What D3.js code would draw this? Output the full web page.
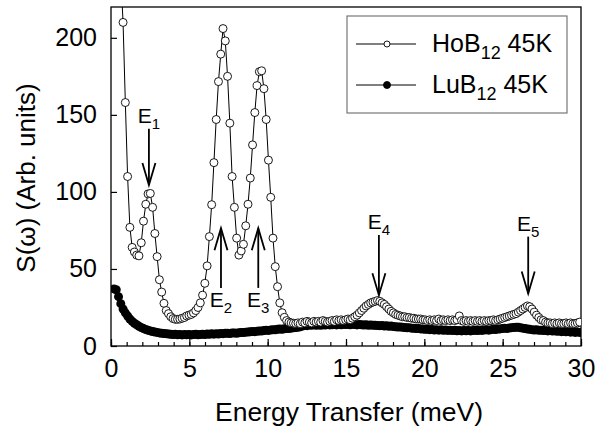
<!DOCTYPE html>
<html>
<head>
<meta charset="utf-8">
<script src="https://cdn.jsdelivr.net/npm/d3@7"></script>
<style>
  body { margin: 0; background: #fff; }
  svg text { font-family: Arial, "Liberation Sans", sans-serif; fill: #000; }
</style>
</head>
<body>
<div id="vis-container"></div>
<script>
// energy grid of the measurement (meV): first point and step
var e0 = 0.19;
var dE = 0.145;

// HoB12 at 45K, S(w) (open circles)
var hoValues = [
    380, 330, 280, 240, 210, 158, 110, 77, 64, 61,
    59, 58.5, 67, 81, 92, 98.7, 99, 90, 73, 58,
    43, 35, 27.7, 23, 21, 19, 17.8, 17.3, 17.3, 17.5,
    18, 18.5, 19.5, 20, 20.5, 21.5, 23, 25, 28, 33,
    40.7, 52, 71, 91.7, 119, 147, 171.6, 189.4, 206, 198,
    175, 144.6, 110, 90, 70, 59, 61.7, 66, 78, 92,
    109, 130.5, 151.5, 169, 178, 178.6, 167, 147, 120.6, 96.5,
    70, 51.5, 38.5, 28, 21.6, 18.6, 16.5, 15.5, 15, 14.8,
    14.6, 15, 14.5, 15.5, 15, 16, 15.5, 15, 16, 15.5,
    16, 15.5, 16.5, 16, 15.5, 16, 16.5, 16, 17, 16.5,
    17, 16.5, 17, 17.5, 17, 18, 19, 20, 21.5, 23,
    24.5, 26, 27, 28, 28.5, 29, 29.5, 29, 28, 27,
    25.5, 24, 22.5, 21.5, 20.5, 20, 19.5, 19, 19, 18.5,
    18.5, 18, 18, 17.5, 17.5, 17.5, 17, 17, 16.5, 17,
    16.5, 17, 16.5, 17.5, 16.5, 17, 16.5, 17, 16.5, 17,
    16.5, 17, 19.5, 16.5, 16, 16.5, 16, 16.5, 16, 16.5,
    16, 16.5, 16, 16.5, 16, 16.5, 16.5, 17, 16.5, 17,
    17.5, 18, 18.5, 19, 19.5, 20, 20.5, 21, 22, 23,
    24, 25, 26, 25.5, 24, 22, 20, 18.5, 17, 16.5,
    15.5, 15, 15, 14.5, 15, 14.5, 15, 14.5, 14.5, 15,
    14.5, 15, 14.5, 14.5, 15, 15.5
];

// LuB12 at 45K (filled circles)
var luValues = [
    37, 36.5, 32, 27.5, 24, 21.5, 19.5, 17.5, 16, 14.8,
    13.8, 12.8, 12, 11.3, 10.7, 10.2, 9.8, 9.4, 9.1, 8.8,
    8.5, 8.3, 8.1, 8, 7.8, 7.6, 7.5, 7.6, 7.3, 7.5,
    7.2, 7.4, 7.3, 7.5, 7.2, 7.4, 7.6, 7.3, 7.5, 7.7,
    7.5, 7.8, 7.6, 7.9, 7.7, 8, 7.8, 8.1, 8, 8.2,
    8.3, 8.1, 8.4, 8.5, 8.3, 8.6, 8.8, 8.7, 9, 9.1,
    9.2, 9.4, 9.3, 9.6, 9.8, 9.7, 10, 10.2, 10.1, 10.4,
    10.6, 10.5, 10.8, 11, 10.9, 11.2, 11.4, 11.3, 11.6, 11.8,
    12, 12.2, 12.5, 13, 13.5, 13.2, 13.6, 13.4, 13.8, 13.5,
    13.7, 13.4, 13.8, 13.6, 13.9, 13.7, 13.8, 14, 13.7, 14,
    13.8, 14.1, 13.9, 14, 13.8, 14.1, 13.9, 13.7, 14, 13.8,
    13.6, 13.8, 13.5, 13.7, 13.4, 13.5, 13.3, 13.2, 13.3, 13,
    13.1, 12.8, 12.9, 12.6, 12.5, 12.3, 12.4, 12.1, 12, 11.8,
    11.9, 11.6, 11.5, 11.3, 11.4, 11.1, 11, 10.9, 10.8, 10.6,
    10.7, 10.4, 10.6, 10.3, 10.5, 10.2, 10.4, 10.1, 10.3, 10,
    10.2, 9.9, 10.1, 9.8, 10, 9.9, 10.1, 9.8, 10, 10.2,
    10, 10.3, 10.1, 10.4, 10.5, 10.3, 10.6, 10.8, 10.7, 11,
    11.1, 11.3, 11.5, 11.4, 11.7, 11.9, 12, 12.2, 12.1, 11.8,
    11.6, 11.3, 11, 10.8, 10.6, 10.4, 10.5, 10.2, 10.3, 10,
    10.1, 9.8, 10, 9.7, 9.9, 9.5, 9.7, 9.3, 9.6, 9.2,
    9.4, 9, 9.2, 8.8, 9.1, 8.8
];

// axis ticks
var xTicksMajor = [0, 5, 10, 15, 20, 25, 30];
var xTicksMinor = d3.range(0, 31, 1);
var yTicks = [0, 50, 100, 150, 200];

// excitation arrows E1..E5: energy, tail and tip of the arrow (in S units)
var peakNames = ["1", "2", "3", "4", "5"];
var peakEnergy = [2.42, 7.02, 9.4, 17.1, 26.63];
var arrowTail = [141, 37.7, 37.7, 72, 71];
var arrowTip = [104.5, 76.4, 76.4, 33, 34];

var seriesNames = ["HoB", "LuB"];

var container = d3.select("#vis-container");

var width = 613;
var height = 434;
var margins = { top: 7, right: 32, bottom: 88, left: 111 };
var visWidth = width - margins.left - margins.right;
var visHeight = height - margins.top - margins.bottom;

var svg = container.append("svg")
    .attr("width", width)
    .attr("height", height);

var viewport = svg.append("g")
    .attr("transform", "translate(" + margins.left + "," + margins.top + ")");

var x = d3.scaleLinear().domain([0, 30]).range([0, visWidth]);
var y = d3.scaleLinear().domain([0, 220]).range([visHeight, 0]);

var hoData = hoValues.map((v, i) => ({ e: e0 + i * dE, s: v }));
var luData = luValues.map((v, i) => ({ e: e0 + i * dE, s: v }));

svg.append("defs").append("clipPath").attr("id", "plot-clip")
    .append("rect").attr("width", visWidth).attr("height", visHeight);

// axes
var axisG = viewport.append("g");

axisG.append("g")
    .attr("transform", "translate(0," + visHeight + ")")
    .call(d3.axisBottom(x).tickValues(xTicksMinor).tickSize(-4).tickSizeOuter(0).tickFormat(""));
axisG.append("g")
    .attr("transform", "translate(0," + visHeight + ")")
    .call(d3.axisBottom(x).tickValues(xTicksMajor).tickSize(-7).tickSizeOuter(0).tickPadding(13));
axisG.append("g")
    .call(d3.axisLeft(y).tickValues(yTicks).tickSize(-6).tickSizeOuter(0).tickPadding(14));

axisG.selectAll(".domain").remove();
axisG.selectAll(".tick line").attr("stroke", "#000").attr("stroke-width", 1.2);
axisG.selectAll(".tick text")
    .style("font-size", "25px")
    .attr("font-family", null);

// frame
viewport.append("rect")
    .attr("width", visWidth)
    .attr("height", visHeight)
    .attr("fill", "none")
    .attr("stroke", "#000")
    .attr("stroke-width", 1.3);

// axis titles
svg.append("text")
    .attr("x", margins.left + visWidth / 2 + 3)
    .attr("y", 421)
    .attr("text-anchor", "middle")
    .style("font-size", "26.5px")
    .text("Energy Transfer (meV)");

svg.append("text")
    .attr("transform", "translate(35," + (margins.top + 171) + ") rotate(-90)")
    .attr("text-anchor", "middle")
    .style("font-size", "26px")
    .text("S(\u03c9) (Arb. units)");

// data
var visualization = viewport.append("g").attr("clip-path", "url(#plot-clip)");
var line = d3.line().x(d => x(d.e)).y(d => y(d.s));

visualization.append("path")
    .datum(luData)
    .attr("d", line)
    .attr("fill", "none")
    .attr("stroke", "#000")
    .attr("stroke-width", 1);
visualization.selectAll(".c-lu")
    .data(luData).enter()
    .append("circle")
    .attr("class", "c-lu")
    .attr("cx", d => x(d.e))
    .attr("cy", d => y(d.s))
    .attr("r", 4.5)
    .attr("fill", "#000");

visualization.append("path")
    .datum(hoData)
    .attr("d", line)
    .attr("fill", "none")
    .attr("stroke", "#000")
    .attr("stroke-width", 1);
visualization.selectAll(".c-ho")
    .data(hoData).enter()
    .append("circle")
    .attr("class", "c-ho")
    .attr("cx", d => x(d.e))
    .attr("cy", d => y(d.s))
    .attr("r", 4)
    .attr("fill", "#fff")
    .attr("stroke", "#000")
    .attr("stroke-width", 0.9);

// arrows with labels
var arrows = viewport.append("g");
peakNames.forEach((name, i) => {
    var ax = x(peakEnergy[i]);
    var yTail = y(arrowTail[i]);
    var yTip = y(arrowTip[i]);
    var dir = yTip > yTail ? 1 : -1;
    arrows.append("line")
        .attr("x1", ax).attr("x2", ax)
        .attr("y1", yTail).attr("y2", yTip)
        .attr("stroke", "#000").attr("stroke-width", 1.8);
    arrows.append("path")
        .attr("d", "M" + (ax - 6.5) + "," + (yTip - dir * 22) + "L" + ax + "," + yTip + "L" + (ax + 6.5) + "," + (yTip - dir * 22))
        .attr("fill", "none").attr("stroke", "#000").attr("stroke-width", 1.8);
    var ly = dir > 0 ? yTail - 6 : yTail + 19;
    var t = arrows.append("text")
        .attr("x", ax)
        .attr("y", ly)
        .attr("text-anchor", "middle")
        .style("font-size", "21px");
    t.append("tspan").text("E");
    t.append("tspan").attr("dy", 6).style("font-size", "15px").text(name);
});

// legend
var legend = svg.append("g");
legend.append("rect")
    .attr("x", 347).attr("y", 16)
    .attr("width", 220).attr("height", 97)
    .attr("fill", "#fff")
    .attr("stroke", "#777")
    .attr("stroke-width", 1.2);

seriesNames.forEach((name, i) => {
    var ly = 44 + i * 41;
    legend.append("line")
        .attr("x1", 356).attr("x2", 416)
        .attr("y1", ly).attr("y2", ly)
        .attr("stroke", "#000").attr("stroke-width", 1);
    legend.append("circle")
        .attr("cx", 387).attr("cy", ly)
        .attr("r", i === 0 ? 3 : 3.5)
        .attr("fill", i === 0 ? "#fff" : "#000")
        .attr("stroke", "#000").attr("stroke-width", 0.9);
    var t = legend.append("text")
        .attr("x", 432).attr("y", ly + 8)
        .style("font-size", "25px");
    t.append("tspan").text(name);
    t.append("tspan").attr("dy", 7).style("font-size", "18px").text("12");
    t.append("tspan").attr("dy", -7).text(" 45K");
});
</script>
</body>
</html>
